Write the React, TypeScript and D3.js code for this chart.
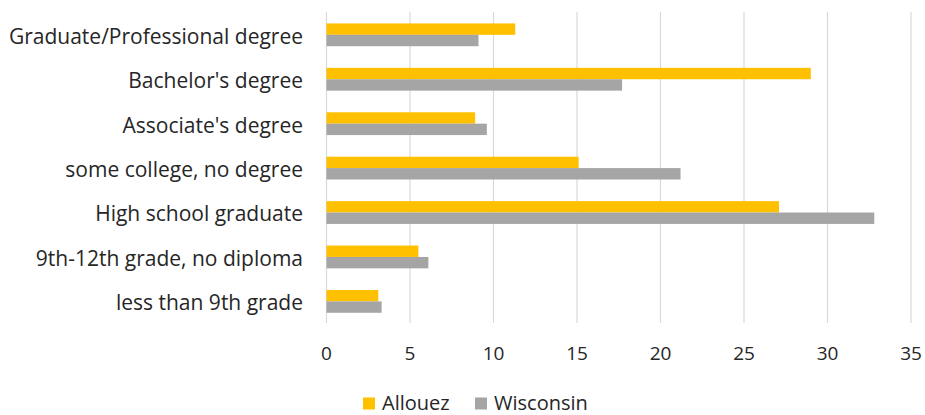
import React, { useEffect, useRef } from 'react'
import * as d3 from 'd3'

const WIDTH = 925
const HEIGHT = 415

const categories = [
  'Graduate/Professional degree',
  "Bachelor's degree",
  "Associate's degree",
  'some college, no degree',
  'High school graduate',
  '9th-12th grade, no diploma',
  'less than 9th grade',
]
const allouez = [11.3, 29.0, 8.9, 15.1, 27.1, 5.5, 3.1]
const wisconsin = [9.1, 17.7, 9.6, 21.2, 32.8, 6.1, 3.3]
const seriesNames = ['Allouez', 'Wisconsin']
const seriesColors = ['#FFC000', '#A5A5A5']
const xTicks = [0, 5, 10, 15, 20, 25, 30, 35]

const PLOT_LEFT = 326.5
const PLOT_RIGHT = 911
const PLOT_TOP = 12
const PLOT_BOTTOM = 323
const FONT = '"Open Sans", sans-serif'
const TEXT_COLOR = '#262626'

export default function App() {
  const ref = useRef<SVGSVGElement>(null)

  useEffect(() => {
    const svg = d3.select(ref.current)
    svg.selectAll('*').remove()

    const xScale = d3.scaleLinear().domain([0, 35]).range([PLOT_LEFT, PLOT_RIGHT])
    const yScale = d3.scaleBand().domain(categories).range([PLOT_TOP, PLOT_BOTTOM]).padding(0)
    const inner = d3.scaleBand()
      .domain(seriesNames)
      .range([0.6, yScale.bandwidth() + 0.6])
      .paddingOuter(0.95)
      .paddingInner(0)

    svg.append('rect')
      .attr('width', WIDTH)
      .attr('height', HEIGHT)
      .attr('fill', '#ffffff')

    // gridlines
    svg.append('g')
      .selectAll('line')
      .data(xTicks)
      .enter()
      .append('line')
      .attr('x1', (d) => xScale(d))
      .attr('x2', (d) => xScale(d))
      .attr('y1', PLOT_TOP)
      .attr('y2', PLOT_BOTTOM)
      .attr('stroke', '#d9d9d9')
      .attr('stroke-width', 1.2)

    const rows = categories.map((c, i) => ({ name: c, values: [allouez[i], wisconsin[i]] }))

    const groups = svg.append('g')
      .selectAll('g')
      .data(rows)
      .enter()
      .append('g')
      .attr('transform', (d) => `translate(0, ${yScale(d.name)})`)

    groups.selectAll('rect')
      .data((d) => d.values.map((v, j) => ({ v, s: seriesNames[j], c: seriesColors[j] })))
      .enter()
      .append('rect')
      .attr('x', xScale(0))
      .attr('y', (d) => inner(d.s) as number)
      .attr('width', (d) => xScale(d.v) - xScale(0))
      .attr('height', inner.bandwidth())
      .attr('fill', (d) => d.c)

    // category labels
    svg.append('g')
      .selectAll('text')
      .data(categories)
      .enter()
      .append('text')
      .attr('x', 303)
      .attr('y', (d) => (yScale(d) as number) + yScale.bandwidth() / 2 + 9.5)
      .attr('text-anchor', 'end')
      .attr('font-family', FONT)
      .attr('font-size', 21)
      .attr('fill', TEXT_COLOR)
      .text((d) => d)

    // x tick labels
    svg.append('g')
      .selectAll('text')
      .data(xTicks)
      .enter()
      .append('text')
      .attr('x', (d) => xScale(d))
      .attr('y', 360)
      .attr('text-anchor', 'middle')
      .attr('font-family', FONT)
      .attr('font-size', 19)
      .attr('fill', TEXT_COLOR)
      .text((d) => d)

    // legend
    const legendX = [363, 475]
    const legend = svg.append('g')
      .selectAll('g')
      .data(seriesNames)
      .enter()
      .append('g')
      .attr('transform', (d, i) => `translate(${legendX[i]}, 397.5)`)
    legend.append('rect')
      .attr('width', 12)
      .attr('height', 12)
      .attr('fill', (d, i) => seriesColors[i])
    legend.append('text')
      .attr('x', 19)
      .attr('y', 12)
      .attr('font-family', FONT)
      .attr('font-size', 20)
      .attr('fill', TEXT_COLOR)
      .text((d) => d)
  }, [])

  return (
    <svg
      ref={ref}
      width={WIDTH}
      height={HEIGHT}
      style={{ position: 'absolute', left: 0, top: 0 }}
    ></svg>
  )
}
